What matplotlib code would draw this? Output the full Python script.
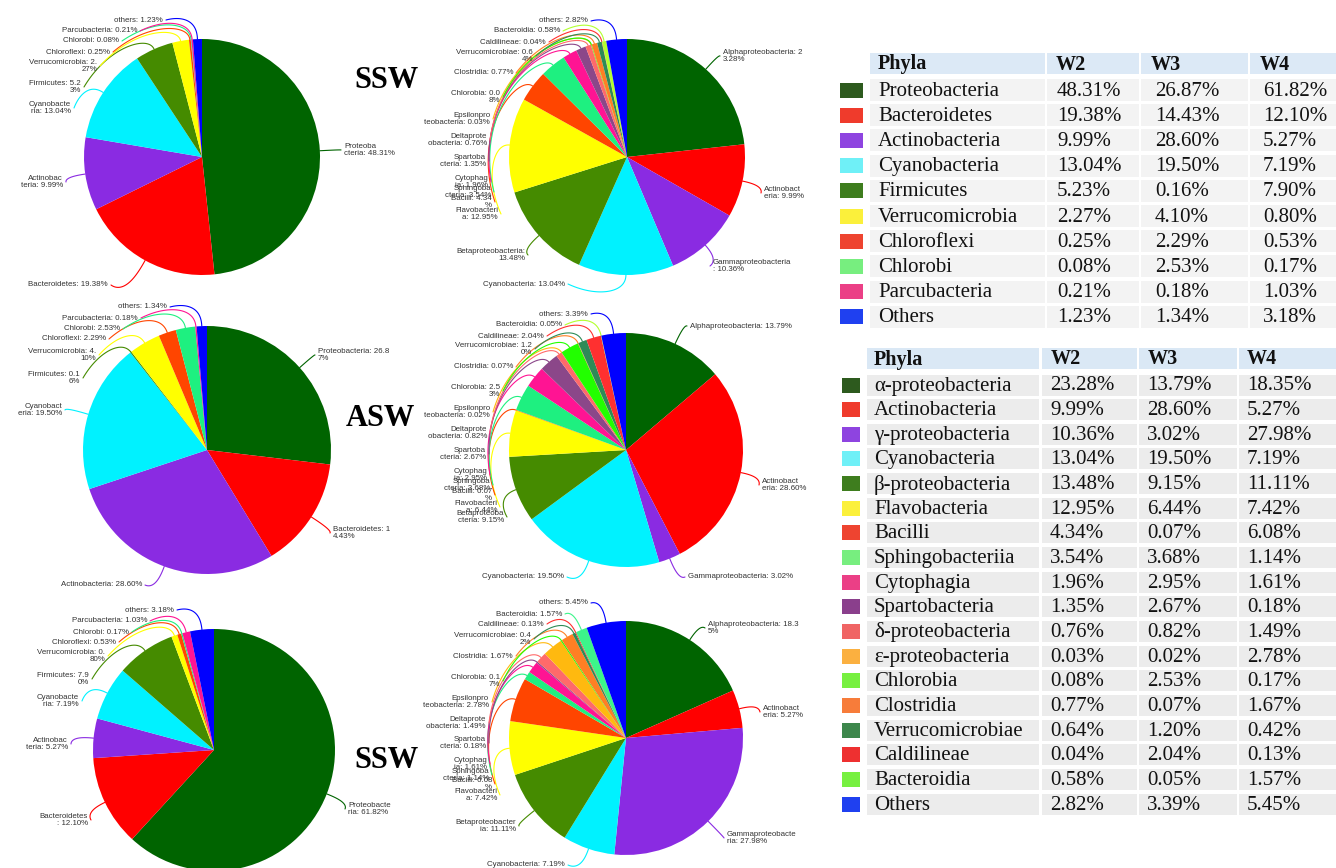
import math
import matplotlib
matplotlib.use("Agg")
import matplotlib.pyplot as plt
from matplotlib.patches import Rectangle
import numpy as np

W, H = 1336, 868

# ---------------- data ----------------
phyla = ["Proteobacteria", "Bacteroidetes", "Actinobacteria", "Cyanobacteria", "Firmicutes",
         "Verrucomicrobia", "Chloroflexi", "Chlorobi", "Parcubacteria", "Others"]
phyla_pie_names = ["Proteobacteria", "Bacteroidetes", "Actinobacteria", "Cyanobacteria", "Firmicutes",
                   "Verrucomicrobia", "Chloroflexi", "Chlorobi", "Parcubacteria", "others"]
phyla_w2 = [48.31, 19.38, 9.99, 13.04, 5.23, 2.27, 0.25, 0.08, 0.21, 1.23]
phyla_w3 = [26.87, 14.43, 28.60, 19.50, 0.16, 4.10, 2.29, 2.53, 0.18, 1.34]
phyla_w4 = [61.82, 12.10, 5.27, 7.19, 7.90, 0.80, 0.53, 0.17, 1.03, 3.18]

classes = ["α-proteobacteria", "Actinobacteria", "γ-proteobacteria", "Cyanobacteria",
           "β-proteobacteria", "Flavobacteria", "Bacilli", "Sphingobacteriia", "Cytophagia",
           "Spartobacteria", "δ-proteobacteria", "ε-proteobacteria", "Chlorobia", "Clostridia",
           "Verrucomicrobiae", "Caldilineae", "Bacteroidia", "Others"]
class_pie_names = ["Alphaproteobacteria", "Actinobacteria", "Gammaproteobacteria", "Cyanobacteria",
                   "Betaproteobacteria", "Flavobacteria", "Bacilli", "Sphingobacteria", "Cytophagia",
                   "Spartobacteria", "Deltaproteobacteria", "Epsilonproteobacteria", "Chlorobia",
                   "Clostridia", "Verrucomicrobiae", "Caldilineae", "Bacteroidia", "others"]
class_w2 = [23.28, 9.99, 10.36, 13.04, 13.48, 12.95, 4.34, 3.54, 1.96, 1.35, 0.76, 0.03, 0.08,
            0.77, 0.64, 0.04, 0.58, 2.82]
class_w3 = [13.79, 28.60, 3.02, 19.50, 9.15, 6.44, 0.07, 3.68, 2.95, 2.67, 0.82, 0.02, 2.53,
            0.07, 1.20, 2.04, 0.05, 3.39]
class_w4 = [18.35, 5.27, 27.98, 7.19, 11.11, 7.42, 6.08, 1.14, 1.61, 0.18, 1.49, 2.78, 0.17,
            1.67, 0.42, 0.13, 1.57, 5.45]

site_labels = ["SSW", "ASW", "SSW"]
table_head = ["Phyla", "W2", "W3", "W4"]

# ---------------- colours ----------------
phyla_pie_colors = ["#006400", "#FF0000", "#8A2BE2", "#00F2FF", "#458B00", "#FFFF00",
                    "#FF4500", "#1EF080", "#FF1493", "#0000FF"]
class_pie_colors = ["#006400", "#FF0000", "#8A2BE2", "#00F2FF", "#458B00", "#FFFF00",
                    "#FF4500", "#1EF080", "#FF1493", "#8B4789", "#FF6A6A", "#FFB90F",
                    "#22FF00", "#FF7F24", "#2E8B57", "#FF3030", "#B3FF2F", "#0000FF"]
class_pie_colors_w4 = list(class_pie_colors)
class_pie_colors_w4[16] = "#3CF58A"

phyla_swatch = ["#2D5A1E", "#EF3B2C", "#8E44E0", "#6FF0F7", "#3E7D1E", "#FBF03B",
                "#EE4430", "#77EE7F", "#EB3F86", "#1F40F0"]
class_swatch = ["#2D5A1E", "#EF3B2C", "#8E44E0", "#6FF0F7", "#3E7D1E", "#FBF03B",
                "#EE4430", "#77EE7F", "#EB3F86", "#8A3F8C", "#F06464", "#FBB040",
                "#77F040", "#F77C3A", "#3D874C", "#EE3030", "#77F040", "#1F40F0"]

# ---------------- layout (pixel units, y measured downward) ----------------
# label placement per pie: (side, x, y, wrap position)
lay_p_w2 = [("R", 344, 150, 8), ("L", 108, 285, 0), ("L", 63, 182, 9), ("L", 71, 108, 10),
            ("L", 81, 87, 15), ("L", 97, 66, 19), ("L", 110, 52, 0), ("L", 119, 41, 0),
            ("L", 137, 31, 0), ("L", 163, 20, 0)]
lay_p_w3 = [("R", 318, 355, 20), ("R", 333, 533, 16), ("L", 142, 585, 0), ("L", 62, 410, 9),
            ("L", 80, 378, 15), ("L", 96, 355, 19), ("L", 106, 339, 0), ("L", 120, 329, 0),
            ("L", 138, 318, 0), ("L", 167, 307, 0)]
lay_p_w4 = [("R", 348, 809, 11), ("L", 88, 820, 13), ("L", 68, 744, 9), ("L", 79, 701, 10),
            ("L", 89, 679, 15), ("L", 105, 656, 19), ("L", 116, 642, 0), ("L", 129, 632, 0),
            ("L", 147, 621, 0), ("L", 174, 610, 0)]
lay_c_w2 = [("R", 723, 56, 22), ("R", 764, 193, 10), ("R", 713, 266, 19), ("L", 565, 284, 0),
            ("L", 525, 255, 19), ("L", 498, 214, 12), ("L", 492, 202, 13), ("L", 491, 192, 9),
            ("L", 488, 182, 8), ("L", 486, 161, 8), ("L", 487, 140, 10), ("L", 490, 119, 10),
            ("L", 500, 97, 14), ("L", 513, 73, 0), ("L", 533, 56, 21), ("L", 546, 42, 0),
            ("L", 560, 31, 0), ("L", 588, 21, 0)]
lay_c_w3 = [("R", 690, 326, 0), ("R", 762, 485, 10), ("R", 688, 577, 0), ("L", 564, 577, 0),
            ("L", 504, 517, 12), ("L", 497, 507, 12), ("L", 492, 495, 13), ("L", 490, 485, 9),
            ("L", 487, 475, 8), ("L", 486, 454, 8), ("L", 487, 433, 10), ("L", 490, 412, 10),
            ("L", 500, 391, 14), ("L", 513, 367, 0), ("L", 532, 349, 21), ("L", 544, 336, 0),
            ("L", 562, 325, 0), ("L", 588, 314, 0)]
lay_c_w4 = [("R", 708, 628, 25), ("R", 763, 712, 10), ("R", 727, 838, 16), ("L", 565, 865, 0),
            ("L", 516, 826, 16), ("L", 497, 795, 12), ("L", 492, 784, 13), ("L", 489, 775, 9),
            ("L", 487, 764, 8), ("L", 486, 743, 8), ("L", 486, 723, 10), ("L", 489, 702, 10),
            ("L", 500, 681, 14), ("L", 513, 656, 0), ("L", 531, 639, 21), ("L", 544, 624, 0),
            ("L", 562, 614, 0), ("L", 588, 603, 0)]

pies = [
    (phyla_w2, phyla_pie_names, phyla_pie_colors, (202, 157), 118, lay_p_w2),
    (class_w2, class_pie_names, class_pie_colors, (627, 157), 118, lay_c_w2),
    (phyla_w3, phyla_pie_names, phyla_pie_colors, (207, 450), 124, lay_p_w3),
    (class_w3, class_pie_names, class_pie_colors, (626, 450), 117, lay_c_w3),
    (phyla_w4, phyla_pie_names, phyla_pie_colors, (214, 750), 121, lay_p_w4),
    (class_w4, class_pie_names, class_pie_colors_w4, (626, 738), 117, lay_c_w4),
]
site_pos = [(387, 81), (380, 419), (387, 760)]

LABEL_FONT = dict(family="Liberation Sans", fontsize=5.7, color="#333333", linespacing=0.9)
SERIF = "Liberation Serif"

fig = plt.figure(figsize=(W / 100, H / 100), dpi=100)
fig.patch.set_facecolor("white")
ax = fig.add_axes([0, 0, 1, 1])


def wrap(text, pos):
    if pos <= 0 or pos >= len(text):
        return text
    return text[:pos].strip() + "\n" + text[pos:].strip()


def leader(cx, cy, r, phi0, px, py, color):
    """Curved connector from a slice edge (angle phi0, clockwise from top) to a label."""
    dx, dy = px - cx, cy - py
    rho_l = math.hypot(dx, dy)
    phi_l = math.degrees(math.atan2(dx, dy)) % 360
    d = (phi_l - phi0 + 180) % 360 - 180
    t = np.linspace(0, 1, 80)
    phi = np.radians(phi0 + d * t ** 2)
    rho = r + (rho_l - r) * (1 - (1 - t) ** 2)
    xs = cx + rho * np.sin(phi)
    ys = cy - rho * np.cos(phi)
    ax.plot(xs, H - ys, color=color, lw=0.8, zorder=0.5, solid_capstyle="round")


for values, names, colors, (cx, cy), r, layout in pies:
    wedges, _ = ax.pie(values, colors=colors, center=(cx, H - cy), radius=r, startangle=90,
                       counterclock=False, wedgeprops=dict(linewidth=0))
    for w, name, v, col, (side, lx, ly, brk) in zip(wedges, names, values, colors, layout):
        mid = 0.5 * (w.theta1 + w.theta2)
        phi0 = (90 - mid) % 360
        label = wrap(f"{name}: {v:.2f}%", brk)
        if side == "L":
            ax.text(lx, H - ly, label, ha="right", va="center", multialignment="right",
                    zorder=3, **LABEL_FONT)
            leader(cx, cy, r, phi0, lx + 3, ly, col)
        else:
            ax.text(lx, H - ly, label, ha="left", va="center", multialignment="left",
                    zorder=3, **LABEL_FONT)
            leader(cx, cy, r, phi0, lx - 3, ly, col)

for s, (sx, sy) in zip(site_labels, site_pos):
    ax.text(sx, H - sy, s, ha="center", va="center", family=SERIF, fontweight="bold",
            fontsize=22, color="black", zorder=3)


def draw_table(names, columns, swatches, head_top, head_h, row0, step, cell_h,
               col_edges, text_x, head_x, sw_x, sw_w, sw_h, head_fill, row_fill):
    for (x0, x1), hx, lab in zip(col_edges, head_x, table_head):
        ax.add_patch(Rectangle((x0, H - head_top - head_h), x1 - x0, head_h,
                               facecolor=head_fill, edgecolor="none", zorder=1))
        ax.text(hx, H - (head_top + head_h / 2 + 1), lab, ha="left", va="center",
                family=SERIF, fontweight="bold", fontsize=14.5, color="#111111", zorder=3)
    for i, name in enumerate(names):
        yc = row0 + step * i
        for x0, x1 in col_edges:
            ax.add_patch(Rectangle((x0, H - yc - cell_h / 2), x1 - x0, cell_h,
                                   facecolor=row_fill, edgecolor="none", zorder=1))
        ax.add_patch(Rectangle((sw_x, H - yc - sw_h / 2), sw_w, sw_h,
                               facecolor=swatches[i], edgecolor="none", zorder=2))
        cells = [name] + [f"{col[i]:.2f}%" for col in columns]
        for tx, txt in zip(text_x, cells):
            ax.text(tx, H - yc - 1, txt, ha="left", va="center", family=SERIF,
                    fontsize=15, color="#111111", zorder=3)


draw_table(phyla, [phyla_w2, phyla_w3, phyla_w4], phyla_swatch,
           head_top=53, head_h=21, row0=90, step=25.2, cell_h=22,
           col_edges=[(870, 1045), (1047, 1139), (1141, 1248), (1250, 1336)],
           text_x=[878, 1057, 1155, 1263], head_x=[878, 1056, 1151, 1260],
           sw_x=840, sw_w=23, sw_h=15, head_fill="#DCE9F6", row_fill="#F3F3F3")

draw_table(classes, [class_w2, class_w3, class_w4], class_swatch,
           head_top=348, head_h=21, row0=385, step=24.65, cell_h=21,
           col_edges=[(867, 1039), (1042, 1137), (1139, 1237), (1239, 1336)],
           text_x=[874, 1050, 1147, 1247], head_x=[874, 1051, 1148, 1247],
           sw_x=842, sw_w=18, sw_h=15, head_fill="#DAE8F5", row_fill="#ECECEC")

ax.set_xlim(0, W)
ax.set_ylim(0, H)
ax.set_aspect("auto")
ax.axis("off")
fig.savefig("out.png", dpi=100, facecolor="white")
